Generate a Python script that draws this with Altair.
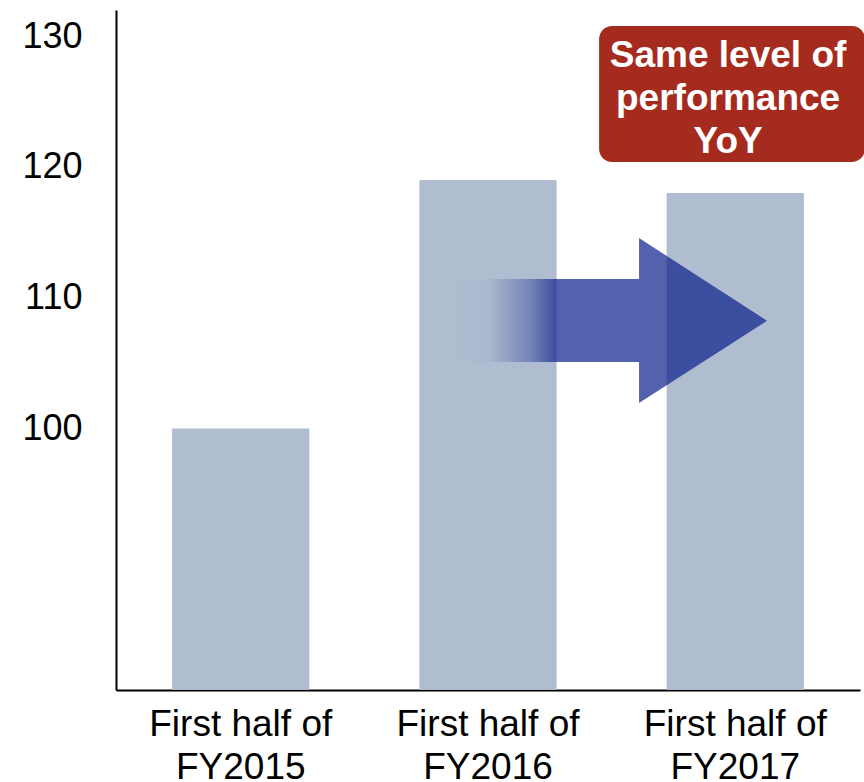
import altair as alt
import pandas as pd

# ---- data ----
categories = ["First half of FY2015", "First half of FY2016", "First half of FY2017"]
values = [100, 119, 118]
y_ticks = [100, 110, 120, 130]

# arrow outline in (category-index, value) units, drawn in order
arrow_x = [1.347, 2.109, 2.109, 2.625]
arrow_lo = [105.08, 105.08, 101.95, 108.24]
arrow_hi = [111.43, 111.43, 114.56, 108.24]

# annotation box (category-index, value) units
box_x = [1.948]
box_x2 = [3.02]
box_y = [120.38]
box_y2 = [130.78]
note_lines = ["Same level of", "performance", "YoY"]
note_x = [2.468, 2.468, 2.468]
note_y = [127.64, 124.35, 121.06]

FONT = "Liberation Sans"
Y_SCALE = alt.Scale(domain=[80, 132], nice=False, zero=False)
XQ_SCALE = alt.Scale(domain=[0, 3], nice=False, zero=False)

bars_df = pd.DataFrame({"category": categories, "value": values, "base": [80] * len(values)})
arrow_df = pd.DataFrame({"x": arrow_x, "lo": arrow_lo, "hi": arrow_hi})
box_df = pd.DataFrame({"x": box_x, "x2": box_x2, "y": box_y, "y2": box_y2})
note_df = pd.DataFrame({"x": note_x, "y": note_y, "text": note_lines})

bars = alt.Chart(bars_df).mark_bar(color="#B0BDD0").encode(
    x=alt.X(
        "category:N",
        sort=categories,
        scale=alt.Scale(paddingInner=0.445, paddingOuter=0.227),
        axis=alt.Axis(
            title=None,
            labelAngle=0,
            labelFont=FONT,
            labelFontSize=37,
            labelColor="black",
            labelPadding=16,
            labelLineHeight=43,
            labelLimit=0,
            ticks=False,
            domainColor="black",
            domainWidth=2,
            labelExpr="[slice(datum.label, 0, 13), slice(datum.label, 14)]",
        ),
    ),
    y=alt.Y(
        "value:Q",
        scale=Y_SCALE,
        axis=alt.Axis(
            title=None,
            values=y_ticks,
            labelFont=FONT,
            labelFontSize=36,
            labelColor="black",
            labelPadding=34,
            ticks=False,
            grid=False,
            domainColor="black",
            domainWidth=2,
        ),
    ),
    y2="base:Q",
)

arrow_fill = {
    "gradient": "linear",
    "x1": 0, "y1": 0, "x2": 1, "y2": 0,
    "stops": [
        {"offset": 0.0, "color": "rgba(11,31,138,0)"},
        {"offset": 0.12, "color": "rgba(11,31,138,0.03)"},
        {"offset": 0.25, "color": "rgba(11,31,138,0.35)"},
        {"offset": 0.335, "color": "rgba(11,31,138,0.7)"},
        {"offset": 1.0, "color": "rgba(11,31,138,0.7)"},
    ],
}

arrow = alt.Chart(arrow_df).mark_area(fill=arrow_fill, clip=False).encode(
    x=alt.X("x:Q", scale=XQ_SCALE, axis=None),
    y=alt.Y("lo:Q", scale=Y_SCALE, title=None),
    y2="hi:Q",
)

box = alt.Chart(box_df).mark_rect(color="#A62B1F", cornerRadius=13, clip=False).encode(
    x=alt.X("x:Q", scale=XQ_SCALE, axis=None),
    x2="x2:Q",
    y=alt.Y("y:Q", scale=Y_SCALE, title=None),
    y2="y2:Q",
)

note = alt.Chart(note_df).mark_text(
    color="white", font=FONT, fontSize=37, fontWeight="bold",
    align="center", baseline="alphabetic", clip=False,
).encode(
    x=alt.X("x:Q", scale=XQ_SCALE, axis=None),
    y=alt.Y("y:Q", scale=Y_SCALE, title=None),
    text="text:N",
)

chart = (
    alt.layer(bars, arrow, box, note)
    .resolve_scale(x="independent")
    .properties(
        width=744,
        height=680,
        autosize=alt.AutoSizeParams(type="none"),
        padding={"left": 116, "top": 10, "right": 4, "bottom": 92},
    )
    .configure_view(stroke=None)
)

chart.save("out.html", embed_options={"renderer": "svg", "actions": False})
